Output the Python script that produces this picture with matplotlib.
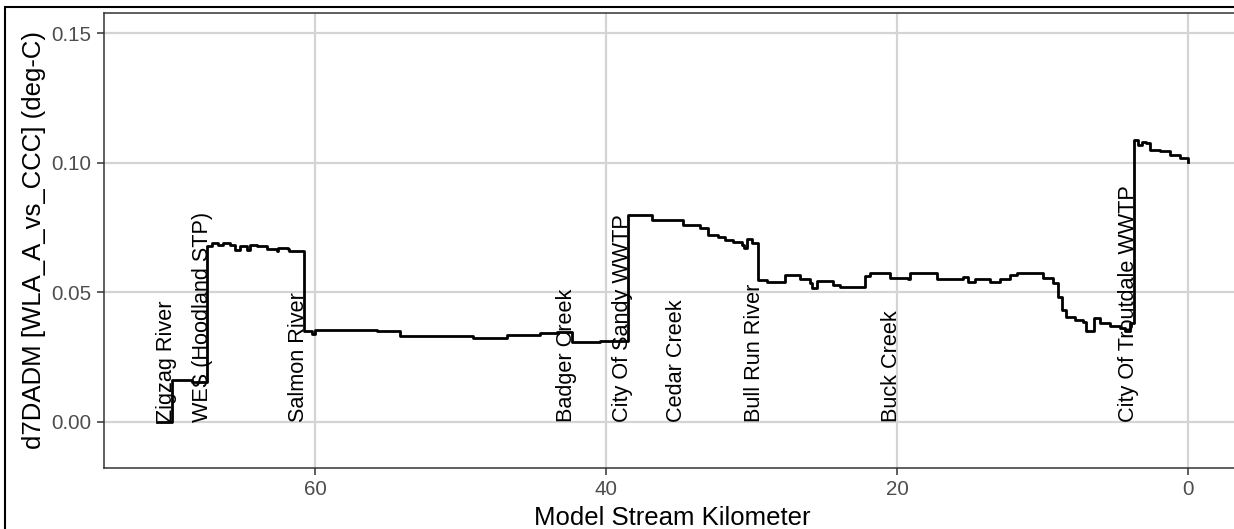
import matplotlib
matplotlib.use("Agg")
import matplotlib.pyplot as plt
from matplotlib.patches import Rectangle

# step profile (km, value holding downstream of that km)
stream_km = [
    70.90, 69.87, 68.49, 67.42, 67.12, 66.67, 66.32, 65.86, 65.52, 65.18,
    64.72, 64.49, 64.03, 63.34, 62.65, 62.54, 61.86, 61.79, 60.76, 60.25,
    60.02, 55.76, 54.19, 49.17, 46.84, 44.57, 43.40, 42.37, 40.44, 38.51,
    36.86, 34.74, 33.57, 33.02, 32.33, 31.84, 31.29, 30.68, 30.54, 30.33,
    29.99, 29.55, 28.93, 27.69, 26.68, 26.00, 25.87, 25.49, 24.40, 23.94,
    22.22, 21.88, 20.51, 19.26, 19.13, 17.27, 15.48, 15.14, 14.66, 13.63,
    12.94, 12.25, 11.77, 9.99, 9.30, 8.96, 8.68, 8.41, 7.79, 7.24,
    7.03, 6.48, 6.07, 5.38, 4.69, 4.35, 4.01, 3.74, 3.46, 3.19,
    2.91, 2.63, 1.95, 1.26, 0.57, 0.00,
]
d7dadm = [
    0.0000, 0.0160, 0.0154, 0.0680, 0.0690, 0.0684, 0.0690, 0.0681, 0.0664, 0.0677,
    0.0664, 0.0684, 0.0677, 0.0668, 0.0658, 0.0671, 0.0668, 0.0658, 0.0352, 0.0340,
    0.0354, 0.0350, 0.0332, 0.0324, 0.0335, 0.0342, 0.0346, 0.0307, 0.0310, 0.0798,
    0.0779, 0.0759, 0.0748, 0.0721, 0.0713, 0.0702, 0.0694, 0.0682, 0.0671, 0.0707,
    0.0690, 0.0547, 0.0539, 0.0566, 0.0551, 0.0536, 0.0516, 0.0543, 0.0528, 0.0520,
    0.0563, 0.0574, 0.0555, 0.0551, 0.0574, 0.0551, 0.0559, 0.0539, 0.0551, 0.0539,
    0.0551, 0.0566, 0.0574, 0.0555, 0.0536, 0.0482, 0.0431, 0.0404, 0.0393, 0.0385,
    0.0350, 0.0400, 0.0381, 0.0370, 0.0362, 0.0350, 0.0381, 0.1088, 0.1069, 0.1080,
    0.1076, 0.1049, 0.1045, 0.1030, 0.1018, 0.1003,
]

source_names = [
    "Zigzag River", "WES (Hoodland STP)", "Salmon River", "Badger Creek",
    "City Of Sandy WWTP", "Cedar Creek", "Bull Run River", "Buck Creek",
    "City Of Troutdale WWTP",
]
source_km = [69.83, 67.40, 60.78, 42.34, 38.49, 34.78, 29.44, 20.03, 3.74]

x_ticks = [60, 40, 20, 0]
y_ticks = [0.00, 0.05, 0.10, 0.15]

plt.rcParams["font.family"] = ["Liberation Sans", "DejaVu Sans"]

W, H = 1234, 529
fig = plt.figure(figsize=(W / 100, H / 100), dpi=100)
left, right, top, bottom = 103.5, 1240, 13, 467.7
ax = fig.add_axes([left / W, 1 - bottom / H, (right - left) / W, (bottom - top) / H])

grid_col = "#D4D4D4"
ax.set_axisbelow(True)
for xv in x_ticks:
    ax.axvline(xv, color=grid_col, lw=1.6, zorder=0)
for yv in y_ticks:
    ax.axhline(yv, color=grid_col, lw=1.6, zorder=0)

ax.step(stream_km, d7dadm, where="post", color="black", lw=2.0, zorder=3)

# labels sit with their baseline on the source location
for name, km in zip(source_names, source_km):
    ax.text(km, 0, name, rotation=90, rotation_mode="anchor",
            ha="left", va="baseline", fontsize=15.6, color="black", zorder=4)

ax.set_xlim(74.56, -3.55)
ax.set_ylim(-0.01776, 0.1578)
ax.set_xticks(x_ticks)
ax.set_xticklabels([str(v) for v in x_ticks])
ax.set_yticks(y_ticks)
ax.set_yticklabels([f"{v:.2f}" for v in y_ticks])
ax.tick_params(length=5, width=1.1, color="#333333", labelcolor="#4D4D4D",
               labelsize=14.8, pad=4)

for side in ["left", "bottom", "top"]:
    ax.spines[side].set_color("#333333")
    ax.spines[side].set_linewidth(1.1)
ax.spines["right"].set_visible(False)

ax.set_xlabel("Model Stream Kilometer", fontsize=18.5)
ax.set_ylabel("d7DADM [WLA_A_vs_CCC] (deg-C)", fontsize=18.5)
ax.xaxis.set_label_coords(0.5, -0.084)
ax.yaxis.set_label_coords((46 - left) / (right - left), 0.5)

# outer frame of the original image (only top and left edges in view)
fig.add_artist(Rectangle((5.3 / W, -0.2), 1.2, 1.2 - 7.3 / H, transform=fig.transFigure,
                         fill=False, ec="black", lw=1.5))

fig.savefig("out.png", dpi=100)
